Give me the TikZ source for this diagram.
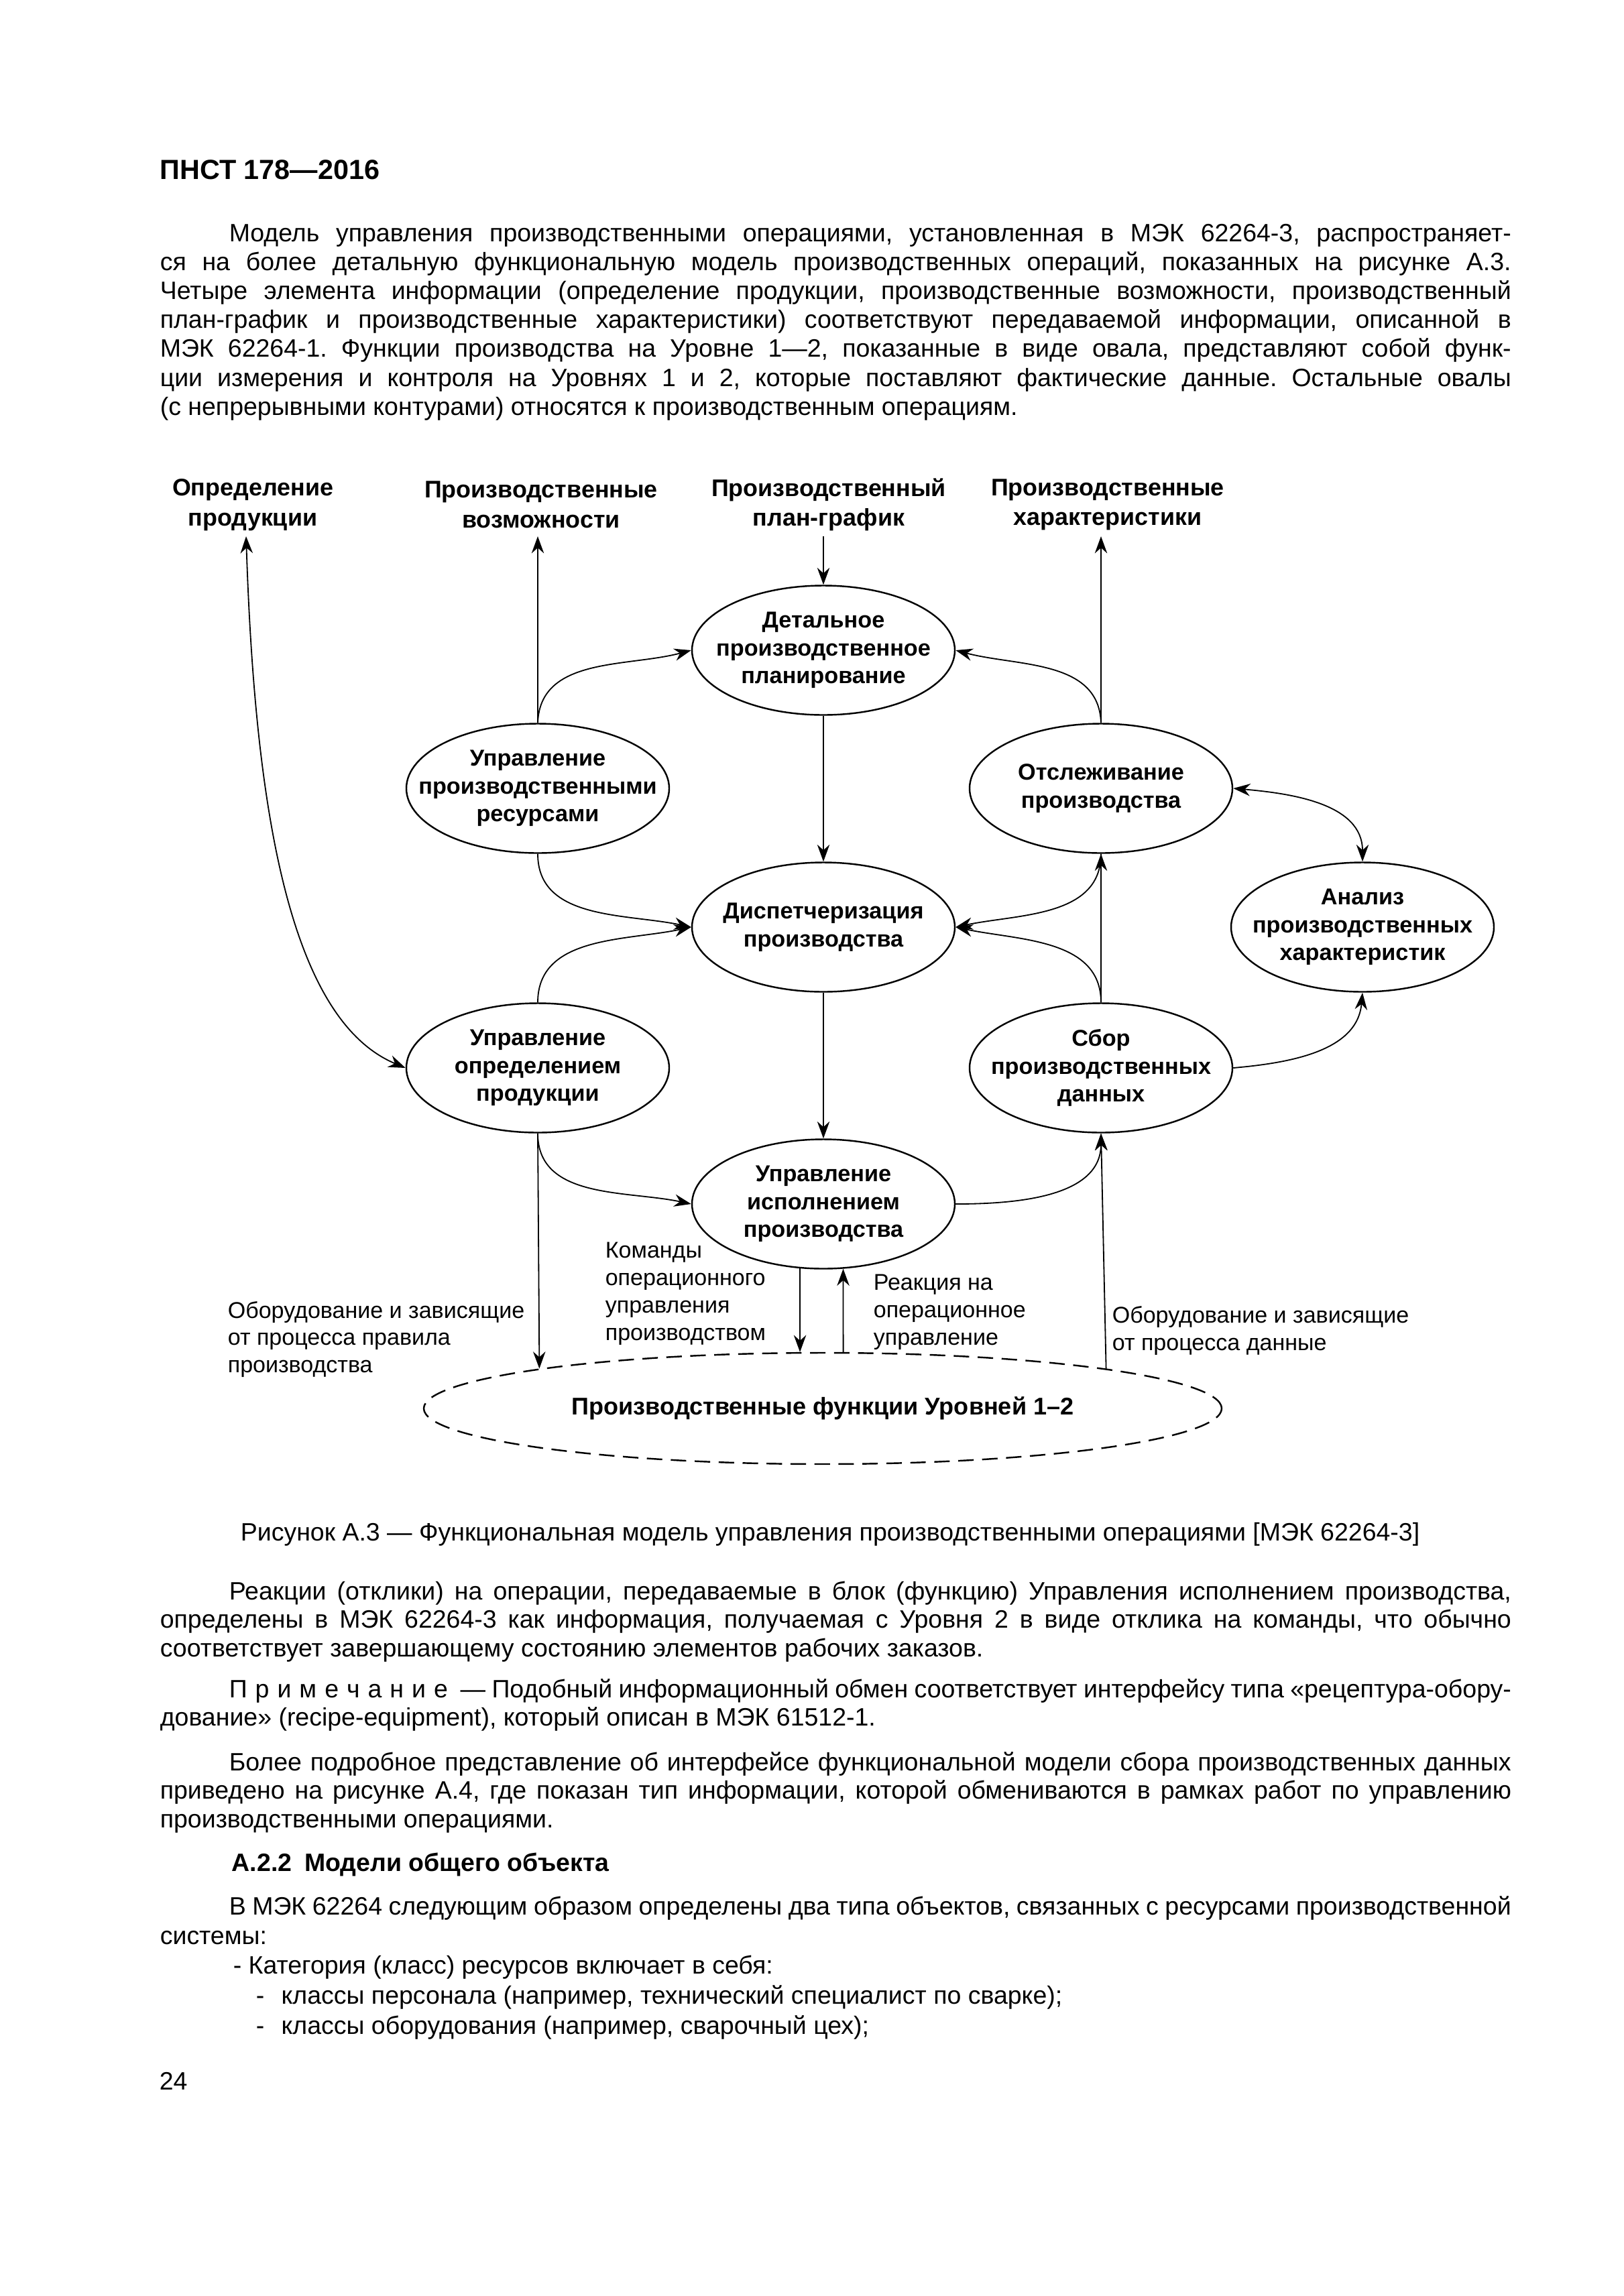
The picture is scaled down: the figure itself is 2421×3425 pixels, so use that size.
\documentclass[tikz,border=0pt]{standalone}
\usepackage{fontspec}
\setmainfont{Liberation Sans}
\usetikzlibrary{shapes, arrows, arrows.meta, calc, positioning}
\frenchspacing

\newdimen\pxu \pxu=0.08674mm
\newdimen\bodyw \bodyw=2015\pxu
\newdimen\indw \indw=103\pxu
\newdimen\ovalw \ovalw=392\pxu
\newdimen\ovalh \ovalh=193\pxu
\newdimen\lvlw \lvlw=1190\pxu
\newdimen\lvlh \lvlh=166\pxu
\newcommand\bodyfont{\fontsize{9.25}{10.5}\selectfont}
\newcommand\lblfont{\fontsize{8.4}{10.1}\selectfont}

\tikzset{
    oval/.style={ellipse, draw, line width=0.6pt, minimum width=\ovalw, minimum height=\ovalh, inner sep=0pt},
    ovaltxt/.style={font=\fontsize{8.45}{10.3}\selectfont\bfseries, align=center, inner sep=0pt},
    caplbl/.style={font=\fontsize{8.85}{11}\selectfont\bfseries, align=center, inner sep=0pt},
    notelbl/.style={font=\lblfont, align=left, anchor=west, inner sep=0pt},
    bodyline/.style={anchor=base west, inner sep=0pt, font=\bodyfont},
    arr/.style={-{Stealth[length=2.2mm, width=1.6mm]}, line width=0.45pt},
    arrtwo/.style={{Stealth[length=2.2mm, width=1.6mm]}-{Stealth[length=2.2mm, width=1.6mm]}, line width=0.45pt}
}

\begin{document}
\begin{tikzpicture}[x=0.08674mm, y=-0.08674mm, every node/.style={inner sep=0pt}]
    \fill[white] (0,0) rectangle (2421,3425);
    \useasboundingbox (0,0) rectangle (2421,3425);

    % page head and first paragraph
    \node[anchor=base west, font=\fontsize{10.2}{12}\selectfont\bfseries] (head) at (238,267) {ПНСТ 178—2016};
    \foreach \ln [count=\i from 0] in {
        {\hskip\indw Модель управления производственными операциями, установленная в МЭК 62264-3, распространяет-},
        {ся на более детальную функциональную модель производственных операций, показанных на рисунке А.3.},
        {Четыре элемента информации (определение продукции, производственные возможности, производственный},
        {план-график и производственные характеристики) соответствуют передаваемой информации, описанной в},
        {МЭК 62264-1. Функции производства на Уровне 1—2, показанные в виде овала, представляют собой функ-},
        {ции измерения и контроля на Уровнях 1 и 2, которые поставляют фактические данные. Остальные овалы},
        {(с непрерывными контурами) относятся к производственным операциям.\hfil}}{
        \node[bodyline] (intro\i) at (238, 360+43.2*\i) {\hbox to\bodyw{\ln}};
    }

    % captions over the arrows
    \node[caplbl] (capA) at (377,753) {Определение\\продукции};
    \node[caplbl] (capB) at (807,753) {Производственные\\возможности};
    \node[caplbl] (capC) at (1236,753) {Производственный\\план-график};
    \node[caplbl] (capD) at (1652,753) {Производственные\\характеристики};
    \coordinate (endA) at (367,800);
    \coordinate (endB) at (802,800);
    \coordinate (endC) at (1228,800);
    \coordinate (endD) at (1642,800);

    % functions
    \node[oval, label={[ovaltxt]center:{Детальное\\производственное\\планирование}}] (plan) at (1228,970) {};
    \node[oval, label={[ovaltxt]center:{Управление\\производственными\\ресурсами}}] (res) at (802,1176) {};
    \node[oval, label={[ovaltxt]center:{Отслеживание\\производства}}] (track) at (1642,1176) {};
    \node[oval, label={[ovaltxt]center:{Диспетчеризация\\производства}}] (disp) at (1228,1383) {};
    \node[oval, label={[ovaltxt]center:{Анализ\\производственных\\характеристик}}] (anal) at (2032,1383) {};
    \node[oval, label={[ovaltxt]center:{Управление\\определением\\продукции}}] (pdef) at (802,1593) {};
    \node[oval, label={[ovaltxt]center:{Сбор\\производственных\\данных}}] (coll) at (1642,1593) {};
    \node[oval, label={[ovaltxt]center:{Управление\\исполнением\\производства}}] (exec) at (1228,1796) {};
    \node[ellipse, draw, dashed, dash pattern=on 2mm off 1.1mm, line width=0.6pt, minimum width=\lvlw, minimum height=\lvlh,
        font=\fontsize{8.9}{11}\selectfont\bfseries] (lvl) at (1227,2101) {Производственные функции Уровней 1–2};

    % connectors
    \draw[arrtwo] (endA) .. controls (380,1200) and (430,1520) .. (pdef.west);
    \draw[arr] (res.north) -- (endB);
    \draw[arr] (res.north) to[out=88,in=195] (plan.west);
    \draw[arr] (endC) -- (plan.north);
    \draw[arr] (track.north) -- (endD);
    \draw[arr] (track.north) to[out=92,in=-15] (plan.east);
    \draw[arr] (plan.south) -- (disp.north);
    \draw[arr] (res.south) to[out=-90,in=168] (disp.west);
    \draw[arr] (pdef.north) to[out=90,in=192] (disp.west);
    \draw[arr] (track.south) to[out=-90,in=12] (disp.east);
    \draw[arr] (coll.north) to[out=90,in=-12] (disp.east);
    \draw[arr] (coll.north) -- (track.south);
    \draw[arrtwo] (track.east) to[out=-5,in=90] (anal.north);
    \draw[arr] (coll.east) to[out=5,in=-95] (anal.south);
    \draw[arr] (disp.south) -- (exec.north);
    \draw[arr] (pdef.south) to[out=-90,in=168] (exec.west);
    \draw[arr] (exec.east) to[out=0,in=-90] (coll.south);
    \draw[arr] (pdef.south) -- (lvl.172.2);
    \draw[arr] (lvl.8.16) -- (coll.south);
    \draw[arr] (exec.-110.3) -- (lvl.112.3);
    \draw[arr] (lvl.70.7) -- (exec.-73.6);

    % texts at the level lines
    \node[notelbl] (noteL) at (339,1998) {Оборудование и зависящие\\от процесса правила\\производства};
    \node[notelbl] (cmdtxt) at (902,1930) {Команды\\операционного\\управления\\производством};
    \node[notelbl] (resptxt) at (1302,1957) {Реакция на\\операционное\\управление};
    \node[notelbl] (noteR) at (1658,1985) {Оборудование и зависящие\\от процесса данные};

    \node[anchor=base, font=\bodyfont] (figcap) at (1238,2298) {Рисунок А.3 — Функциональная модель управления производственными операциями [МЭК 62264-3]};

    % text under the figure
    \foreach \ln [count=\i from 0] in {
        {\hskip\indw Реакции (отклики) на операции, передаваемые в блок (функцию) Управления исполнением производства,},
        {определены в МЭК 62264-3 как информация, получаемая с Уровня 2 в виде отклика на команды, что обычно},
        {соответствует завершающему состоянию элементов рабочих заказов.\hfil}}{
        \node[bodyline] (reply\i) at (238, 2386+42.7*\i) {\hbox to\bodyw{\ln}};
    }
    \foreach \ln [count=\i from 0] in {
        {\hskip\indw П\kern.32em р\kern.32em и\kern.32em м\kern.32em е\kern.32em ч\kern.32em а\kern.32em н\kern.32em и\kern.32em е\enspace — Подобный информационный обмен соответствует интерфейсу типа «рецептура-обору-},
        {дование» (recipe-equipment), который описан в МЭК 61512-1.\hfil}}{
        \node[bodyline] (remark\i) at (238, 2532+42.7*\i) {\hbox to\bodyw{\ln}};
    }
    \foreach \ln [count=\i from 0] in {
        {\hskip\indw Более подробное представление об интерфейсе функциональной модели сбора производственных данных},
        {приведено на рисунке А.4, где показан тип информации, которой обмениваются в рамках работ по управлению},
        {производственными операциями.\hfil}}{
        \node[bodyline] (more\i) at (238, 2641+42.7*\i) {\hbox to\bodyw{\ln}};
    }
    \node[bodyline, font=\bodyfont\bfseries] (sect) at (345,2791) {А.2.2\enspace Модели общего объекта};
    \node[bodyline] (obj0) at (238,2856) {\hbox to\bodyw{\hskip\indw В МЭК 62264 следующим образом определены два типа объектов, связанных с ресурсами производственной}};
    \node[bodyline] (obj1) at (238,2900) {системы:};
    \node[bodyline] (item0) at (347,2944) {- Категория (класс) ресурсов включает в себя:};
    \node[bodyline] (item1) at (381,2989) {-\hskip 2.2mm классы персонала (например, технический специалист по сварке);};
    \node[bodyline] (item2) at (381,3034) {-\hskip 2.2mm классы оборудования (например, сварочный цех);};

    \node[bodyline] (pageno) at (237,3117) {24};
\end{tikzpicture}
\end{document}
